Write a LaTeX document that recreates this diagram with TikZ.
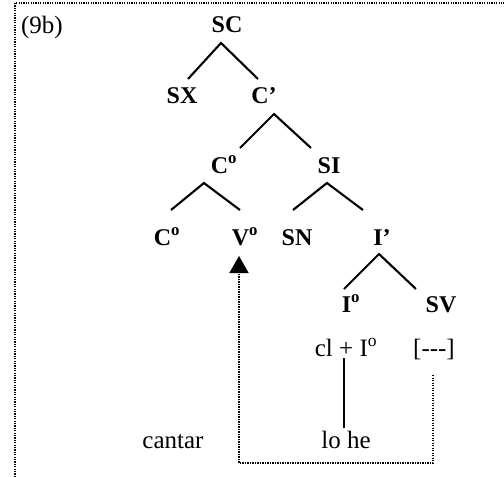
\documentclass[tikz,border=0pt]{standalone}
\usepackage{fontspec}
\setmainfont{Liberation Serif}
\usetikzlibrary{arrows.meta}
\begin{document}
\begin{tikzpicture}[x=1pt,y=-1pt,
  lab/.style={anchor=base,inner sep=2pt,font=\fontsize{24}{26}\selectfont\bfseries},
  txt/.style={anchor=base,inner sep=2pt,font=\fontsize{25}{27}\selectfont},
  branch/.style={line width=2.1pt},
  dots/.style={line width=1.5pt,dash pattern=on 1.3pt off 1.2pt},
  frame/.style={line width=1.5pt,dash pattern=on 1.2pt off 1.2pt}]
\useasboundingbox (0,0) rectangle (504,477);
% frame (top and left only)
\draw[frame] (15,477) -- (15,3) -- (504,3);
% labels
\node[txt] (ex) at (42,33) {(9b)};
\node[lab] (SC) at (227,32) {SC};
\node[lab] (SX) at (182,103) {SX};
\node[lab] (Cbar) at (264,103) {C’};
\node[lab] (C0) at (224,173) {C\textsuperscript{o}};
\node[lab] (SI) at (329,173) {SI};
\node[lab] (C0b) at (167,245) {C\textsuperscript{o}};
\node[lab] (V0) at (245,245) {V\textsuperscript{o}};
\node[lab] (SN) at (297,245) {SN};
\node[lab] (Ibar) at (382,245) {I’};
\node[lab] (I0) at (351,312) {I\textsuperscript{o}};
\node[lab] (SV) at (441,312) {SV};
\node[txt] (cl) at (346,356) {cl + I\textsuperscript{o}};
\node[txt] (gap) at (434,356) {[{-}{-}{-}]};
\node[txt] (cantar) at (173,448) {cantar};
\node[txt] (lohe) at (346,448) {lo he};
% branch points
\coordinate (aSC) at (221,43);
\coordinate (eSX) at (188,79);
\coordinate (eCbar) at (258,79);
\coordinate (aCbar) at (274,114);
\coordinate (eC0) at (240,148);
\coordinate (eSI) at (311,148);
\coordinate (aC0) at (204,183);
\coordinate (eC0b) at (171,210);
\coordinate (eV0) at (240,210);
\coordinate (aSI) at (327,183);
\coordinate (eSN) at (293,210);
\coordinate (eIbar) at (363,210);
\coordinate (aIbar) at (379,254);
\coordinate (eI0) at (344,289);
\coordinate (eSV) at (416,289);
\draw[branch] (eSX) -- (aSC) -- (eCbar);
\draw[branch] (eC0) -- (aCbar) -- (eSI);
\draw[branch] (eC0b) -- (aC0) -- (eV0);
\draw[branch] (eSN) -- (aSI) -- (eIbar);
\draw[branch] (eI0) -- (aIbar) -- (eSV);
% association line
\draw[branch] ([xshift=-2pt]cl.south) -- ([xshift=-2pt]lohe.north);
% movement arrow
\coordinate (mvstart) at (433,375);
\coordinate (mvcorner) at (239,463);
\coordinate (mvend) at (239,256);
\draw[dots,-{Triangle[width=19pt,length=17pt]}] (mvstart) |- (mvcorner) -- (mvend);
\end{tikzpicture}
\end{document}
